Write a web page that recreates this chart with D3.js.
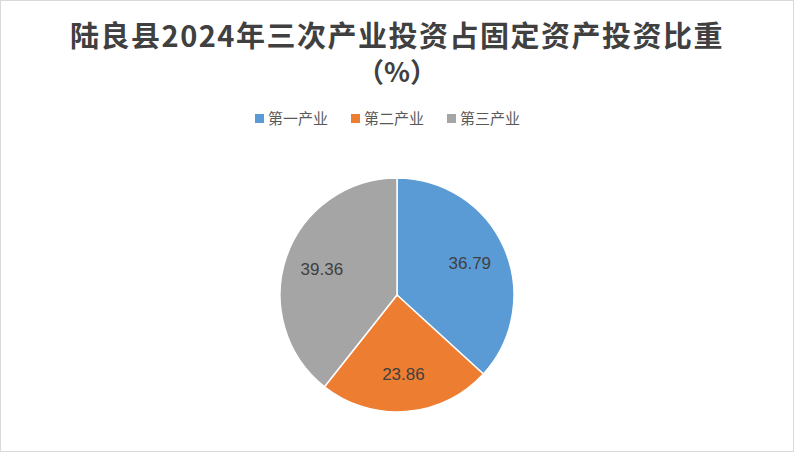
<!DOCTYPE html><html><head><meta charset="utf-8"><script src="https://cdn.jsdelivr.net/npm/d3@7"></script>
<style>body{margin:0;background:#fff}</style></head><body><svg id="c" width="794" height="452"></svg>
<script>
const categories=["第一产业","第二产业","第三产业"];
const values=[36.79,23.86,39.36];
const colors=["#5B9BD5","#ED7D31","#A5A5A5"];
const svg=d3.select("#c");
svg.append("rect").attr("x",0.5).attr("y",0.5).attr("width",793).attr("height",451).attr("fill","#fff").attr("stroke","#d9d9d9");
const tf="'Noto Sans CJK SC','Noto Sans',sans-serif";
svg.append("text").attr("x",397).attr("y",47).attr("text-anchor","middle").attr("font-family",tf).attr("font-weight","bold").attr("font-size",29).attr("letter-spacing",1.5).attr("fill","#404040").text("陆良县2024年三次产业投资占固定资产投资比重");
svg.append("text").attr("x",397).attr("y",82).attr("text-anchor","middle").attr("font-family",tf).attr("font-weight","bold").attr("font-size",27).attr("fill","#404040").text("（%）");
const lx=[255,351,447];
categories.forEach((c,i)=>{
 const g=svg.append("g").attr("transform",`translate(${lx[i]},119)`);
 g.append("rect").attr("x",0).attr("y",-5).attr("width",9).attr("height",9).attr("fill",colors[i]);
 g.append("text").attr("x",13).attr("y",5).attr("font-family",tf).attr("font-size",15).attr("fill","#595959").text(c);
});
const R=117;
const pie=d3.pie().sort(null).value(d=>d)(values);
const arc=d3.arc().innerRadius(0).outerRadius(R);
const la=d3.arc().innerRadius(R*0.68).outerRadius(R*0.68);
const g=svg.append("g").attr("transform","translate(397,295)");
g.selectAll("path").data(pie).join("path").attr("d",arc).attr("fill",(d,i)=>colors[i]).attr("stroke","#fff").attr("stroke-width",1.5);
g.selectAll("text").data(pie).join("text").attr("transform",d=>`translate(${la.centroid(d)})`).attr("text-anchor","middle").attr("dy","0.35em").attr("font-family","'Liberation Sans',Arial,sans-serif").attr("font-size",17).attr("fill","#404040").text(d=>d.data.toFixed(2));
</script></body></html>
